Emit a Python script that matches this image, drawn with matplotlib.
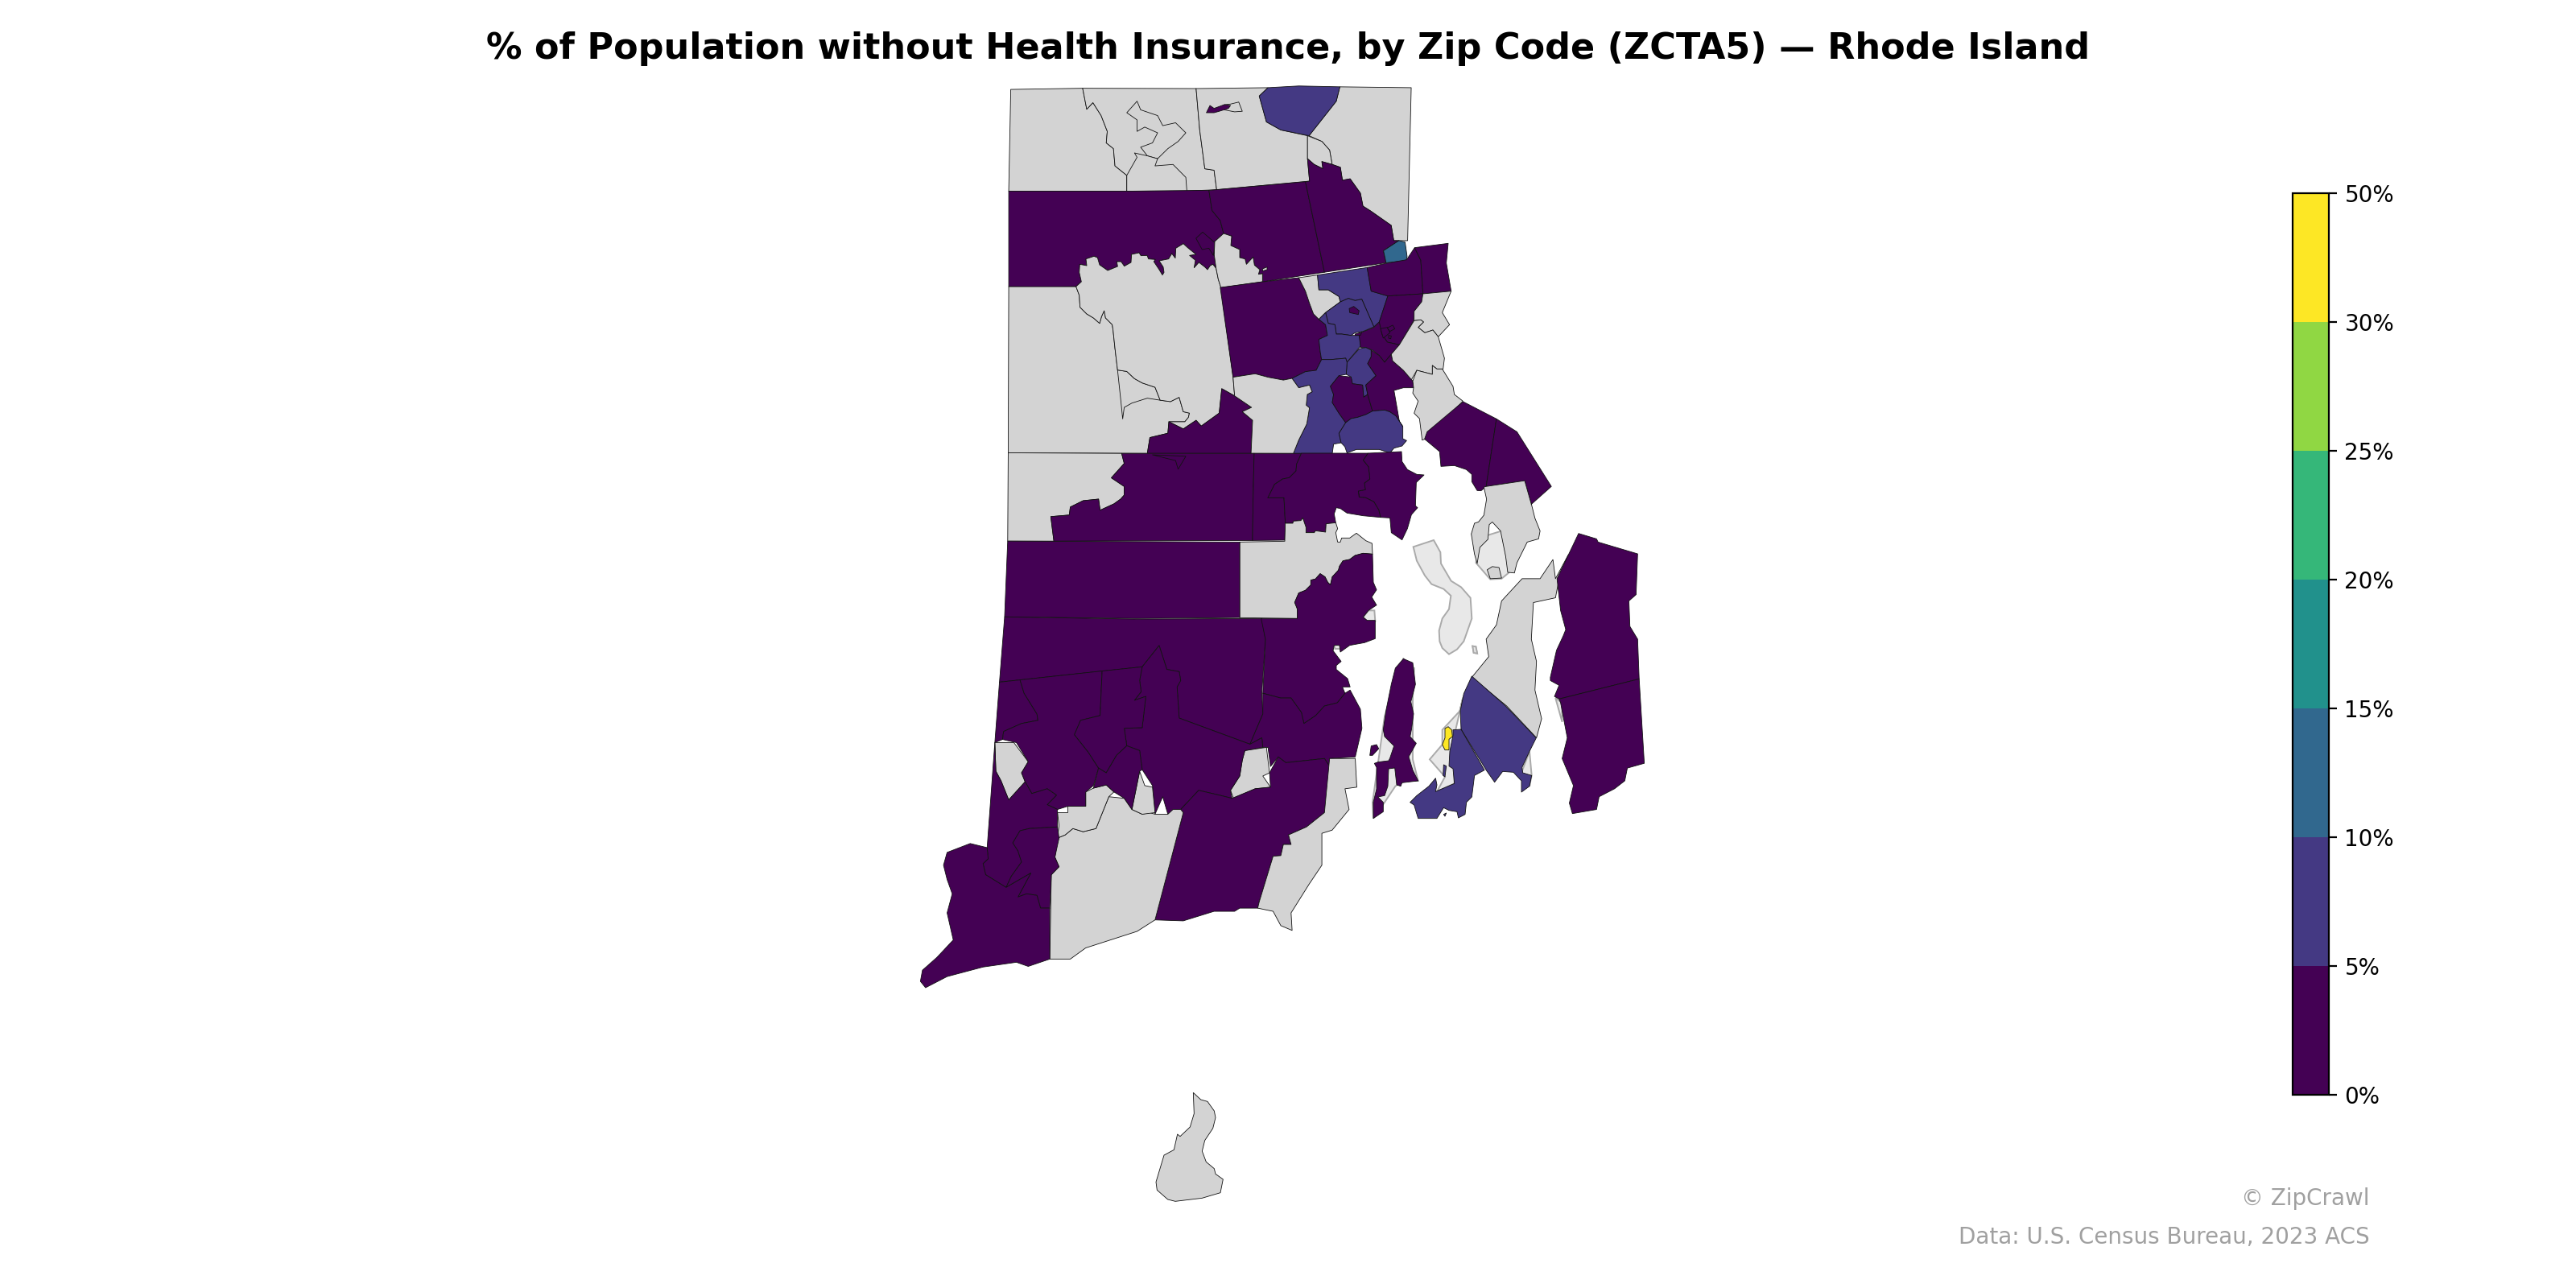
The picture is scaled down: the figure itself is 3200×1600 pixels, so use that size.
import matplotlib
matplotlib.use("Agg")
import matplotlib.pyplot as plt
from matplotlib.colors import BoundaryNorm
from matplotlib.patches import Polygon
from matplotlib.cm import ScalarMappable

TITLE = "% of Population without Health Insurance, by Zip Code (ZCTA5) — Rhode Island"
BOUNDS = [0, 5, 10, 15, 20, 25, 30, 50]
TICK_LABELS = ["0%", "5%", "10%", "15%", "20%", "25%", "30%", "50%"]
CREDIT = "© ZipCrawl"
SOURCE = "Data: U.S. Census Bureau, 2023 ACS"

# Outline survey sheets: each converts traced outline vertices to map units
def sheet(x0, y0, sx, sy):
    return lambda pts: [(x0 + a / sx, y0 + b / sy) for a, b in pts]
N = sheet(1100, 90, 1.568, 2.8)
S = sheet(1100, 620, 1.568, 2.529)
C = sheet(1550, 300, 3, 3)
D = sheet(1700, 800, 3, 3)
B = sheet(1380, 1340, 3, 3)
E = sheet(1560, 560, 3, 3)
F = sheet(1300, 260, 3, 3)

NA = None  # no data

FRINGE_NORTH = [(110,288),(130,270),(122,235),(124,205),(150,210),(147,185),(177,175),(190,180),(198,207),(228,228),(265,213),(262,195),(278,195),(290,212),(315,198),(317,168),(345,162),(352,173),(375,172),(380,185),(405,187),(400,195),(420,225),(432,245),(438,235),(435,215),(420,192),(455,185),(467,165),(480,182),(482,145),(510,128),(525,142),(557,168),(533,172),(555,190),(550,218),(568,198),(590,215),(600,225),(610,210),(620,205),(632,220)]
FRINGE_EAST = [(660,90),(690,100),(687,135),(720,150),(720,180),(740,185),(745,205),(770,178),(775,208),(795,225),(790,242),(805,240),(805,270)]
FOSTER_LINE = [(110,288),(122,320),(125,365),(150,390),(175,405),(198,425),(205,400),(215,378),(220,405),(245,430),(248,450)]
BAY_LINE = [(418,9),(400,35),(420,60),(425,105),(405,120),(408,145),(382,150),(385,172),(410,175),(440,190),(458,220),(465,248)]
COVE_LINE = [(155,625),(155,590),(145,565),(160,530),(185,520),(205,500),(205,482),(222,478),(240,458),(258,470),(268,490),(278,500),(285,470),(308,445),(312,430),(325,410),(350,405),(370,390),(400,382),(435,385)]
SHORE_LINE = [(298,268),(262,272),(260,303),(222,298),(218,305),(187,305),(187,285),(175,250),(168,260),(140,262),(138,270),(110,270)]

# Water-surrounded base outline (shown where no ZCTA covers it)
BASE_SHAPES = [
    E([(587,358),(663,333),(688,378),(690,420),(728,485),(765,508),(800,548),(805,625),(775,710),(750,740),(720,758),(695,735),(685,710),(683,670),(695,625),(720,590),(727,540),(700,515),(655,497),(630,465),(600,410)]),
    E([(808,728),(820,730),(825,755),(812,752)]),
    E([(400,620),(420,595),(442,595),(445,635),(415,635)]),
    E([(292,725),(312,718),(315,738),(295,738)]),
    D([(100,130),(60,270),(15,590),(18,650),(60,590),(100,530),(130,510),(185,510),(165,430),(165,200),(170,90),(130,55)]),
    D([(352,200),(340,250),(275,320),(275,375),(228,430),(285,495),(255,550),(320,520),(320,340)]),
    S([(1160,120),(1200,100),(1215,230),(1200,250),(1178,252),(1150,200)]),
    S([(1305,625),(1318,640),(1318,700)]),
    D([(388,8),(400,10),(405,35),(392,33)]),
    D([(570,480),(600,400),(608,490),(600,530)]),
]

# (percent uninsured, outline) for each ZCTA
ZCTA = [
    (NA, N([(244,59),(384,55),(392,128),(404,105),(420,150),(432,205),(430,245),(444,265),(447,325),(470,358),(470,413),(240,413)])),
    (NA, N([(384,55),(605,56),(612,200),(622,335),(640,340),(645,408),(587,412),(470,413),(470,358),(447,325),(444,265),(430,245),(432,205),(420,150),(404,105),(392,128)])),
    (NA, N([(470,140),(490,100),(497,130),(530,150),(540,185),(565,175),(585,210),(570,240),(550,265),(530,300),(510,290),(497,260),(520,245),(530,210),(505,190),(490,205),(490,165)])),
    (NA, N([(470,358),(490,295),(485,280),(510,290),(530,300),(525,325),(560,320),(585,365),(587,412),(470,413)])),
    (NA, N([(605,56),(745,53),(728,82),(742,172),(770,200),(822,220),(822,300),(826,378),(645,408),(640,340),(622,335),(612,200)])),
    (NA, N([(885,50),(1024,53),(1017,585),(990,585),(985,532),(945,482),(930,465),(925,420),(905,370),(890,375),(886,330),(870,320),(865,270),(850,240),(825,220),(878,100)])),
    (NA, N([(822,220),(850,240),(865,270),(870,320),(850,310),(852,335),(835,320),(822,300)])),
    (7.2, N([(728,82),(745,53),(805,47),(885,50),(878,100),(825,220),(770,200),(742,172)])),
    (NA, N([(660,112),(672,110),(688,103),(695,135),(680,137),(660,130)])),
    (2.0, N([(625,140),(632,115),(640,125),(660,112),(672,115),(668,125),(650,135),(640,140)])),
    (3.0, N([(240,413),(470,413),(630,410),(636,480),(652,515)]) + F([(660,90),(627,120),(625,170)] + FRINGE_NORTH[::-1] + [(0,290)]) + N([(240,745)])),
    (3.0, F([(557,108),(582,85),(628,125),(622,172),(605,145),(580,150)])),
    (2.5, N([(630,410),(818,380),(855,695)]) + F(FRINGE_EAST[::-1]) + N([(652,515),(636,480)])),
    (NA, F([(805,222),(822,215),(822,225),(805,230)])),
    (3.4, N([(818,380),(826,378),(822,300),(835,320),(852,335),(850,310),(870,320),(886,330),(890,375),(905,370),(925,420),(930,465),(945,482),(985,532),(990,585),(1000,585),(970,620),(975,662),(855,695)])),
    (12.0, N([(970,620),(1000,585),(1012,590),(1016,640),(1014,655),(975,662)])),
    # grey interior of the state
    (NA, N([(240,745),(372,745)]) + F(FOSTER_LINE) + N([(447,960),(452,1035),(470,1040),(485,1065),(500,1080),(525,1095),(535,1140),(555,1145),(572,1130),(580,1180),(592,1185),(590,1200),(583,1215),(552,1215),(550,1255),(515,1270),(510,1325),(239,1323)])),
    (NA, N([(452,1035),(470,1040),(485,1065),(500,1080),(525,1095),(535,1140),(510,1133),(480,1150),(465,1165),(462,1205),(458,1135)])),
    (NA, F(FRINGE_NORTH + [(640,260),(650,292)]) + N([(677,1060),(680,1125),(655,1100),(650,1185),(615,1230),(605,1210),(580,1240),(552,1215),(583,1215),(590,1200),(592,1185),(580,1180),(572,1130),(555,1145),(535,1140),(525,1095),(500,1080),(485,1065),(470,1040),(452,1035),(447,960)]) + F(FOSTER_LINE[::-1])),
    (NA, F([(627,120),(660,90)] + FRINGE_EAST[1:] + [(650,292),(640,260),(632,220),(625,170)])),
    (3.1, N([(655,1100),(680,1125),(713,1165),(695,1180),(715,1210),(712,1325),(510,1325),(515,1270),(550,1255),(552,1215),(580,1240),(605,1210),(615,1230),(650,1185)])),
    (3.0, N([(652,748),(735,728)]) + C([(190,135),(215,185),(230,230),(245,270),(265,290),(290,310),(297,350),(265,365),(270,410),(275,440),(255,480),(215,485),(165,510)]) + N([(775,1070),(745,1060),(720,1048),(677,1060)])),
    (NA, C([(190,135),(260,125),(265,180),(300,180),(340,205),(345,225),(290,265),(265,290),(245,270),(230,230),(215,185)])),
    (7.0, C([(260,125),(445,97),(460,185),(522,203),(490,300),(470,318),(425,215),(400,220),(375,212),(345,225),(340,205),(300,180),(265,180)])),
    (3.5, C([(445,97),(512,82),(592,68),(622,23),(645,70),(653,195),(522,203),(460,185)])),
    (3.2, C([(622,23),(747,7),(740,80),(758,185),(653,195),(645,70)])),
    (3.8, C([(522,203),(653,195),(648,225),(620,260),(618,295),(565,385),(520,375),(495,340),(490,300)])),
    (4.5, C([(420,340),(470,320),(490,300),(500,345),(520,375),(565,385),(535,420),(510,450),(490,425),(465,405),(440,395),(420,395),(415,360),(400,348)])),
    (3.0, C([(495,325),(520,320),(530,340),(505,360)])),
    (3.0, C([(520,322),(540,312),(548,325),(530,335)])),
    (3.0, C([(525,350),(535,352),(533,362),(525,360)])),
    (8.0, C([(290,265),(345,225),(375,212),(400,220),(425,215),(470,318),(430,335),(400,340),(385,350),(350,345),(330,345),(325,310),(300,305)])),
    (3.0, C([(378,250),(395,242),(415,258),(412,272),(380,265)])),
    (7.5, C([(265,290),(290,265),(300,305),(325,310),(330,345),(350,345),(385,350),(415,350),(420,390),(370,450),(365,435),(310,440),(275,440),(270,410),(265,365),(297,350),(290,310)])),
    (3.0, C([(400,345),(425,338),(420,350),(400,350)])),
    (7.0, C([(370,450),(415,400),(440,395),(460,405),(460,430),(447,455),(478,500),(440,535),(447,570),(432,580),(428,535),(390,530),(385,505),(367,495)])),
    (6.5, C([(165,510),(215,485),(255,480),(275,440),(310,440),(365,435),(370,450),(367,495),(340,500),(308,540),(320,570),(315,600),(340,640),(365,675),(340,715),(348,750),(320,755),(315,790),(170,790),(190,740),(220,680),(230,620),(218,610),(222,570),(240,560),(230,535),(190,545)])),
    (NA, N([(677,1060),(720,1048),(745,1060),(775,1070)]) + C([(165,510),(190,545),(230,535),(240,560),(222,570),(218,610),(230,620),(220,680),(190,740),(170,790)]) + N([(712,1325),(715,1210),(695,1180),(713,1165),(680,1125)])),
    (4.0, C([(308,540),(340,500),(385,505),(390,530),(428,535),(432,580),(447,570),(465,632),(440,645),(410,655),(385,660),(365,675),(340,640),(315,600),(320,570)])),
    (4.2, C([(460,405),(490,425),(510,450),(535,420),(540,445),(580,480),(615,520),(618,545),(580,545),(545,555),(565,670),(578,690),(552,650),(530,635),(510,628),(465,632),(447,570),(440,535),(478,500),(447,455),(460,430)])),
    (6.8, C([(365,675),(385,660),(410,655),(440,645),(465,632),(510,628),(530,635),(552,650),(578,690),(578,735),(592,742),(575,762),(545,770),(530,788),(490,775),(440,775),(405,775),(370,788),(362,765),(348,750),(340,715)])),
    (NA, C([(653,195),(758,185),(725,265),(752,310),(710,355),(690,330),(660,340),(635,320),(655,300),(645,292),(620,295),(620,260),(648,225)])),
    (NA, C([(620,295),(645,292),(655,300),(635,320),(660,340),(690,330),(710,355),(733,435),(728,475),(705,475),(688,462),(688,495),(630,480),(610,515),(580,480),(540,445),(535,420),(565,385)])),
    (NA, C([(615,520),(630,480),(688,495),(688,462),(705,475),(725,475),(765,540),(770,570),(802,595),(665,735),(650,740),(640,660),(620,640),(635,595),(615,565),(618,545)])),
    (3.6, N([(1125,1145),(1190,1205),(1170,1440),(1160,1455)]) + E([(825,148),(805,115),(805,88),(785,70),(740,55),(690,58),(685,3)]) + N([(1050,1275),(1055,1250)])),
    (3.3, N([(1190,1205),(1230,1250),(1297,1440),(1258,1502),(1245,1420),(1170,1440)])),
    # middle row
    (NA, N([(239,1323),(460,1325),(465,1360),(440,1410),(465,1440),(465,1470)]) + S([(458,0),(445,15),(418,35),(415,0),(385,5),(360,25),(358,50),(322,55),(328,132),(238,132)])),
    (3.5, N([(460,1325),(718,1325),(716,1484)]) + S([(715,130),(328,132),(322,55),(358,50),(360,25),(385,5),(415,0),(418,35),(445,15),(458,0)]) + N([(465,1470),(465,1440),(440,1410),(465,1360)])),
    (3.5, N([(520,1330),(565,1350),(570,1380),(585,1335)])),
    (3.0, N([(718,1325),(810,1325)]) + E([(152,50),(150,75),(125,100),(100,105),(70,125),(45,175),(105,175),(110,270),(108,333)]) + S([(715,130)]) + N([(716,1484)])),
    (3.7, E(BAY_LINE + [(500,250),(505,305),(545,332),(565,290),(580,238),(603,212),(595,205),(598,118),(627,90),(600,88),(565,70),(545,40),(543,3)])),
    (3.7, E([(365,160),(382,150),(385,172),(370,170)])),
    (3.6, E([(170,9)] + BAY_LINE + [(400,242),(340,232),(315,215),(300,212),(292,235)] + SHORE_LINE + [(105,175),(45,175),(70,125),(100,105),(125,100),(150,75),(152,50)])),
    (NA, E([(-60,340),(108,337)] + SHORE_LINE[::-1] + [(305,290),(298,305),(305,340),(315,340),(320,325),(350,325),(375,307),(410,335),(433,345)] + COVE_LINE[::-1] + [(-60,622)])),
    (2.8, S([(238,132),(690,135),(690,372),(490,375),(232,370)])),
    (2.8, S([(232,370),(490,377),(733,375),(740,440),(733,610),(735,675),(710,770),(572,688),(568,590),(575,570),(572,542),(548,535),(533,460),(500,527),(222,575)])),
    (3.1, E([(20,625)] + COVE_LINE + [(438,490),(450,518),(432,545),(450,575),(420,595),(400,620),(415,632),(445,632),(445,700),(405,715),(350,725),(315,750),(312,725),(292,725),(288,745),(318,785),(300,800),(300,815),(342,849)]) + S([(905,590),(890,590),(895,610),(880,640),(855,650),(838,680),(815,705),(810,670),(790,625),(770,625),(735,610),(740,440)])),
    (3.2, S([(735,610),(770,625),(790,625),(810,670),(815,705),(838,680),(855,650),(880,640),(895,610),(905,600),(925,660),(928,720),(915,810),(865,815),(865,840),(855,815),(780,828),(765,810),(750,840),(745,780),(735,780),(733,750),(710,770),(735,675)])),
    (NA, S([(700,790),(742,780),(748,860),(735,870),(750,905),(720,910),(678,940),(672,915),(690,870),(695,820)])),
    (2.6, S([(500,527),(533,460),(548,535),(572,542),(575,570),(568,590),(572,688),(710,770),(733,750),(735,780),(700,790),(695,820),(690,870),(672,915),(675,940),(650,930),(610,915),(575,975),(550,990),(540,935),(525,990),(520,900),(500,850),(495,790),(470,775),(465,720),(500,718),(507,620),(485,632),(498,605),(495,570)])),
    (4.0, S([(575,975),(610,915),(650,930),(675,940),(720,910),(750,905),(748,860),(765,810),(780,828),(855,815),(865,840),(855,985),(820,1030),(785,1055),(790,1085),(775,1085),(770,1120),(755,1122),(728,1265),(725,1285),(690,1285),(680,1295),(640,1295),(580,1325),(525,1322),(580,985)])),
    (NA, S([(865,815),(915,815),(918,905),(895,910),(903,975),(870,1040),(850,1050),(850,1150),(825,1210),(790,1300),(792,1355),(770,1340),(755,1295),(725,1285),(728,1265),(755,1122),(770,1120),(775,1085),(790,1085),(785,1055),(820,1030),(855,985)])),
    (NA, S([(335,1065),(350,1055),(365,1035),(385,1045),(410,1035),(435,935),(465,940),(480,975),(500,990),(515,985),(525,990),(550,990),(560,975),(575,975),(580,985),(525,1322),(490,1358),(390,1410),(360,1445),(320,1445),(323,1180),(338,1155),(330,1125)])),
    (NA, S([(335,985),(355,985),(355,965),(390,965),(390,920),(405,908),(430,898),(445,920),(435,935),(410,1035),(385,1045),(365,1035),(350,1055),(335,1065),(338,1025)])),
    (NA, S([(480,975),(495,855),(505,900),(520,905),(525,985),(500,990)])),
    (2.4, S([(222,575),(262,568),(270,610),(295,675),(297,695),(265,705),(230,730),(228,755),(213,765)])),
    (NA, S([(213,765),(250,765),(278,825),(265,860),(272,888),(240,945),(225,885),(215,855)])),
    (2.9, S([(262,568),(422,540),(418,680),(380,695),(368,740),(395,795),(415,845),(405,900),(390,920),(390,965),(355,965),(335,975),(315,960),(333,930),(315,910),(285,925),(272,888),(265,860),(278,825),(255,765),(228,755),(230,730),(265,705),(297,695),(295,675),(270,610)])),
    (3.3, S([(422,540),(500,527),(495,570),(498,605),(485,632),(507,620),(500,718),(465,720),(470,775),(450,805),(430,860),(415,845),(395,795),(368,740),(380,695),(418,680)])),
    (3.0, S([(430,860),(450,805),(470,775),(495,790),(500,850),(495,855),(480,975),(465,940),(445,920),(430,898),(405,908),(415,845)])),
    (2.7, S([(213,765),(215,855),(225,885),(240,945),(272,888),(285,925),(315,910),(333,930),(315,960),(335,975),(335,1030),(280,1035),(262,1042),(248,1080),(258,1105),(265,1140),(245,1185),(235,1220),(225,1210),(195,1180),(190,1145),(200,1130),(198,1095)])),
    (3.5, S([(335,1030),(338,1065),(330,1125),(338,1155),(323,1180),(320,1285),(302,1285),(295,1245),(275,1240),(258,1250),(283,1175),(240,1215),(235,1220),(245,1185),(265,1140),(258,1105),(248,1080),(262,1042),(280,1035)])),
    (3.9, S([(198,1095),(165,1082),(120,1110),(113,1150),(120,1195),(130,1240),(120,1300),(132,1385),(100,1440),(72,1480),(68,1515),(78,1535),(120,1500),(190,1470),(255,1455),(278,1468),(320,1445),(320,1285),(302,1285),(295,1245),(275,1240),(258,1250),(283,1175),(240,1215),(235,1220),(225,1210),(195,1180),(190,1145),(200,1130)])),
    # Bristol peninsula, islands, east bay
    (NA, N([(1170,1440),(1245,1420),(1258,1502)]) + S([(1258,15),(1265,60),(1275,100),(1272,125),(1250,135),(1230,200),(1225,232),(1212,230),(1208,180),(1198,100),(1182,72)]) + E([(870,275),(865,330),(835,360),(825,420),(815,385),(803,310),(815,270),(830,265),(850,240),(860,180),(850,135)])),
    (NA, S([(1172,222),(1182,212),(1195,215),(1200,248),(1178,250)])),
    (3.0, D([(130,55),(100,90),(85,150),(65,250),(55,320),(60,345),(95,380),(80,425),(75,435),(35,440),(22,445),(30,460),(30,540),(18,590),(18,650),(55,625),(55,590),(35,570),(60,565),(72,530),(75,465),(98,462),(105,525),(120,530),(125,517),(185,510),(165,470),(150,420),(178,370),(155,345),(160,320),(168,260),(158,215),(175,150),(165,70)])),
    (3.0, D([(10,380),(30,375),(38,390),(15,415),(5,415)])),
    (NA, S([(1142,560),(1175,495),(1170,440),(1190,395),(1200,320),(1240,250),(1275,250),(1300,190),(1305,250),(1330,175),(1312,250),(1305,310),(1262,325),(1258,440),(1268,510),(1265,600),(1278,690),(1268,750),(1210,650)])),
    (7.4, D([(385,120),(510,230),(625,350),(600,400),(572,460),(575,480),(608,490),(600,530),(570,552),(570,510),(540,478),(500,475),(470,515),(440,472),(345,318),(342,250),(355,185)])),
    (7.8, D([(345,318),(432,470),(395,490),(390,530),(385,570),(365,590),(360,635),(335,648),(330,625),(300,620),(280,610),(255,650),(185,650),(170,600),(155,590),(180,565),(225,530),(250,500),(255,525),(250,550),(320,520),(315,465),(300,455),(303,400),(315,340),(315,320)])),
    (40.0, D([(285,315),(297,308),(310,320),(313,345),(300,355),(300,395),(285,395),(275,375),(285,350)])),
    (7.0, D([(280,450),(290,455),(285,495),(278,490)])),
    (7.0, D([(280,635),(290,630),(285,642)])),
    (3.2, S([(1350,108),(1385,125),(1388,135),(1465,172),(1462,300),(1448,320),(1450,400),(1465,440),(1468,565),(1312,628),(1303,620),(1312,585),(1295,570),(1295,560),(1307,475),(1320,430),(1325,410),(1315,350),(1308,250)])),
    (3.3, S([(1312,628),(1468,565),(1478,830),(1445,845),(1440,885),(1420,910),(1390,935),(1385,975),(1338,988),(1332,955),(1340,900),(1318,815),(1328,750),(1315,640)])),
    (NA, B([(307,52),(335,78),(360,85),(385,120),(390,145),(380,185),(350,230),(340,270),(355,310),(385,335),(390,355),(418,375),(408,425),(340,445),(240,457),(212,450),(172,415),(168,385),(198,285),(235,265),(248,207),(258,215),(295,180),(310,130)])),
]

fig = plt.figure(figsize=(16, 8), dpi=200)
ax = fig.add_axes([0, 0, 1, 1])
ax.set_xlim(0, 3200)
ax.set_ylim(1600, 0)
ax.axis("off")

cmap = plt.get_cmap("viridis", len(BOUNDS) - 1)
norm = BoundaryNorm(BOUNDS, cmap.N)

for outline in BASE_SHAPES:
    ax.add_patch(Polygon(outline, closed=True, facecolor="#e8e8e8", edgecolor="#aaaaaa", linewidth=0.7))
for value, outline in ZCTA:
    face = "lightgray" if value is None else cmap(norm(value))
    ax.add_patch(Polygon(outline, closed=True, facecolor=face, edgecolor="#111111", linewidth=0.3, joinstyle="round"))

fig.text(0.5, 1 - 60 / 1600, TITLE, ha="center", va="center", fontsize=16, fontweight="bold")

cax = fig.add_axes([2848 / 3200, 1 - 1360 / 1600, 45 / 3200, 1120 / 1600])
cb = fig.colorbar(ScalarMappable(norm=norm, cmap=cmap), cax=cax, spacing="uniform", ticks=BOUNDS)
cb.ax.set_yticklabels(TICK_LABELS)
cb.ax.minorticks_off()
cb.ax.tick_params(labelsize=10)

fig.text(2944 / 3200, 1 - 1489 / 1600, CREDIT, ha="right", va="center", fontsize=10, color="#a0a0a0")
fig.text(2944 / 3200, 1 - 1537 / 1600, SOURCE, ha="right", va="center", fontsize=10, color="#a0a0a0")

fig.savefig("out.png", dpi=200)
